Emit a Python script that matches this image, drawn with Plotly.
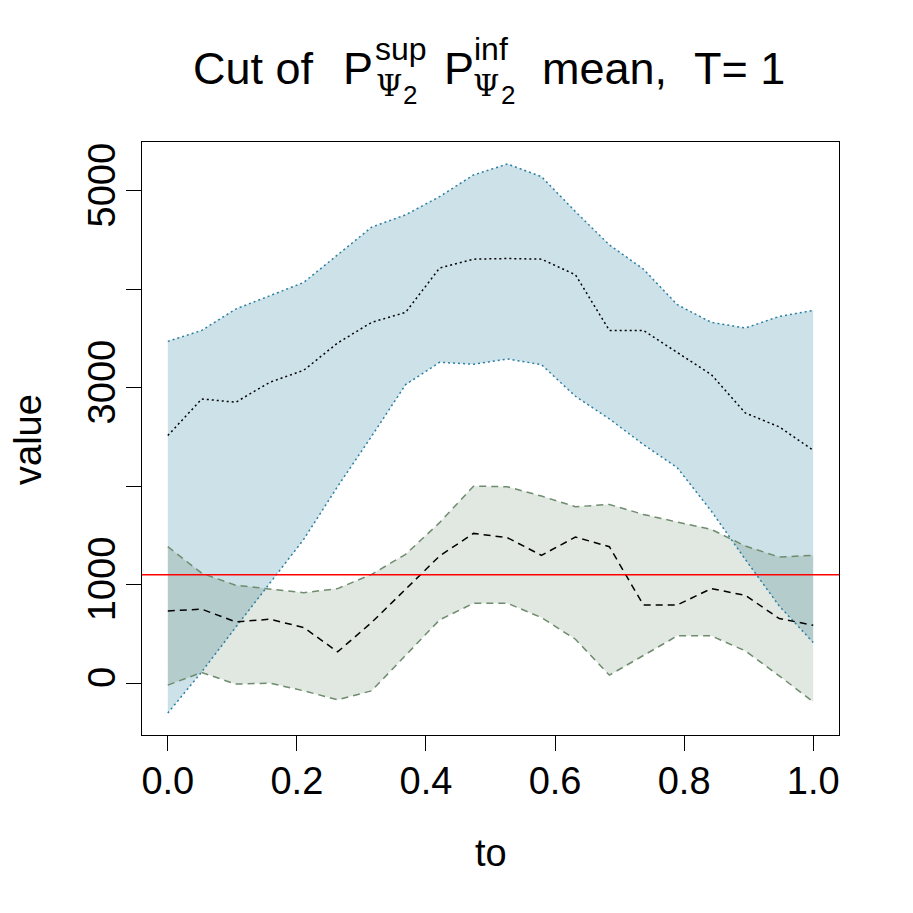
import plotly.graph_objects as go

# --- data ---
to = [i / 19 for i in range(20)]

sup_upper = [3472, 3583, 3800, 3935, 4070, 4351, 4632, 4757, 4942, 5162,
             5274, 5145, 4790, 4452, 4206, 3844, 3665, 3607, 3725, 3786]
sup_mean = [2515, 2887, 2853, 3056, 3178, 3455, 3665, 3766, 4216, 4307,
            4313, 4307, 4148, 3583, 3583, 3354, 3134, 2745, 2603, 2366]
sup_lower = [-304, 115, 568, 1014, 1460, 1998, 2508, 3032, 3259, 3240,
             3293, 3235, 2914, 2684, 2424, 2188, 1748, 1258, 784, 413]

inf_upper = [1386, 1116, 994, 960, 919, 960, 1105, 1308, 1630, 2001,
             1995, 1900, 1792, 1815, 1714, 1636, 1562, 1393, 1281, 1298]
inf_mean = [733, 751, 622, 649, 565, 318, 616, 953, 1291, 1521,
            1477, 1298, 1484, 1386, 794, 794, 960, 892, 656, 588]
inf_lower = [-20, 108, -10, 0, -78, -169, -78, 277, 642, 811,
             811, 666, 446, 81, 277, 480, 480, 328, 74, -190]

threshold = 1100

x_ticks = [0, 0.2, 0.4, 0.6, 0.8, 1.0]
x_ticklabels = ["0.0", "0.2", "0.4", "0.6", "0.8", "1.0"]
y_ticks = [0, 1000, 2000, 3000, 4000, 5000]
y_ticklabels = ["0", "1000", "", "3000", "", "5000"]

FONT = "Liberation Sans, Arial, Helvetica, sans-serif"
SERIF = "DejaVu Serif, Liberation Serif, serif"
BLUE_FILL = "#cde1e8"
BLUE_LINE = "#2a7fa3"
GREEN_FILL = "rgba(20,70,20,0.13)"
GREEN_LINE = "#6e8c6e"

# plot area in page pixels; the page body has an 8px margin
OFF = 8
L, R, T, B = 142, 839, 142, 735
W, H = 913 - OFF, 913 - OFF


def px(xp):
    return (xp - L) / (R - L)


def py(yp):
    return (B - yp) / (B - T)


fig = go.Figure()

# bands
fig.add_trace(go.Scatter(
    x=to + to[::-1], y=sup_upper + sup_lower[::-1],
    fill="toself", fillcolor=BLUE_FILL, line=dict(width=0),
    mode="lines", hoverinfo="skip", showlegend=False))
fig.add_trace(go.Scatter(
    x=to + to[::-1], y=inf_upper + inf_lower[::-1],
    fill="toself", fillcolor=GREEN_FILL, line=dict(width=0),
    mode="lines", hoverinfo="skip", showlegend=False))

# band edges and means
for ys, col, dash in [
    (sup_upper, BLUE_LINE, "2px,3px"),
    (sup_lower, BLUE_LINE, "2px,3px"),
    (sup_mean, "black", "2px,3px"),
    (inf_upper, GREEN_LINE, "7px,5px"),
    (inf_lower, GREEN_LINE, "7px,5px"),
    (inf_mean, "black", "7px,5px"),
]:
    fig.add_trace(go.Scatter(x=to, y=ys, mode="lines",
                             line=dict(color=col, width=1.5, dash=dash),
                             showlegend=False))

fig.add_hline(y=threshold, line=dict(color="red", width=1.5))

axis_common = dict(
    showgrid=False, zeroline=False, showline=True, mirror=True,
    linecolor="black", linewidth=1, ticks="outside", ticklen=15,
    tickcolor="black", tickwidth=1,
    tickfont=dict(family=FONT, size=38, color="black"),
)

fig.update_xaxes(range=[-0.04, 1.04], tickvals=x_ticks, ticktext=x_ticklabels,
                 ticklabelstandoff=-3, **axis_common)
fig.update_yaxes(range=[-527, 5497], tickvals=y_ticks, ticktext=y_ticklabels,
                 tickangle=-90, ticklabelstandoff=-4, **axis_common)


# title pieces (stacked super/subscripts)
def txt(text, xl, baseline, size, family=FONT):
    mid = baseline - 0.3465 * size
    fig.add_annotation(text=text, xref="paper", yref="paper",
                       x=px(xl - 2), y=py(mid), xanchor="left", yanchor="middle",
                       showarrow=False, borderpad=0,
                       font=dict(family=family, size=size, color="black"))


txt("Cut of", 194, 84, 45)
txt("P", 344, 84, 45)
txt("sup", 376, 60, 32)
txt("Ψ", 377, 96, 30, SERIF)
txt("2", 404, 104, 26)
txt("P", 445, 84, 45)
txt("inf", 475, 60, 32)
txt("Ψ", 474, 96, 30, SERIF)
txt("2", 502, 104, 26)
txt("mean,", 543, 84, 45)
txt("T= 1", 695, 84, 45)

# axis titles
fig.add_annotation(text="to", xref="paper", yref="paper", x=px(491), y=py(853),
                   xanchor="center", yanchor="middle", showarrow=False,
                   font=dict(family=FONT, size=38, color="black"))
fig.add_annotation(text="value", xref="paper", yref="paper", x=px(28), y=py(440),
                   xanchor="center", yanchor="middle", textangle=-90,
                   showarrow=False, font=dict(family=FONT, size=38, color="black"))

fig.update_layout(
    width=W, height=H,
    margin=dict(l=L - OFF, r=W - (R - OFF), t=T - OFF, b=H - (B - OFF)),
    paper_bgcolor="white", plot_bgcolor="white",
    showlegend=False,
)

fig.write_html("out.html")
